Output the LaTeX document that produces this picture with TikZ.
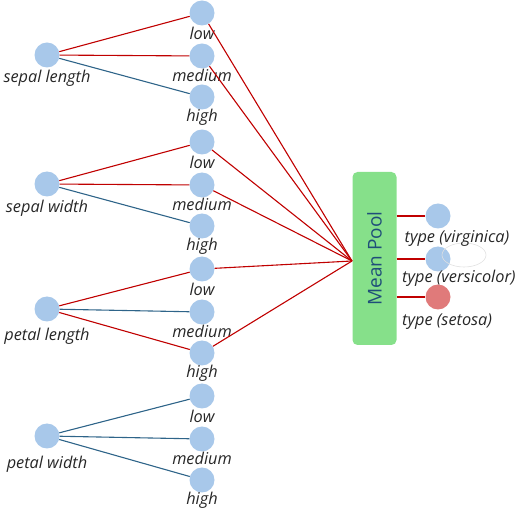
\documentclass[tikz,border=0pt]{standalone}
\usepackage{fontspec}
\setmainfont{Open Sans}
\begin{document}
\begin{tikzpicture}[x=1pt,y=-1pt,
  feat/.style={circle,fill=circblue,minimum size=25pt,inner sep=0pt},
  lbl/.style={font=\fontsize{16.3}{18}\selectfont\itshape,inner sep=0pt,text=black!85},
  redge/.style={draw=edgered,line width=1.1pt},
  bedge/.style={draw=edgeblue,line width=1.1pt}]
\definecolor{circblue}{HTML}{A8C8EA}
\definecolor{circred}{HTML}{E07A7A}
\definecolor{edgered}{HTML}{C00000}
\definecolor{edgeblue}{HTML}{2E6489}
\definecolor{poolgreen}{HTML}{86E08A}
\definecolor{pooltext}{HTML}{1F4E79}
\useasboundingbox (0,0) rectangle (515,513);

% input features
\node[feat] (sl) at (47,55) {};
\node[feat] (sw) at (47,184) {};
\node[feat] (pl) at (47,309) {};
\node[feat] (pw) at (47,436) {};
\node[lbl] at (47,78) {sepal length};
\node[lbl] at (47,208) {sepal width};
\node[lbl] at (47,336) {petal length};
\node[lbl] at (47,464) {petal width};

% binned levels
\foreach \g/\y in {a/13,b/142,c/269,d/396}{
  \node[feat] (\g1) at (202,\y) {};
  \node[feat] (\g2) at (202,\y+43) {};
  \node[feat] (\g3) at (202,\y+84) {};
  \node[lbl] at (202,\y+20) {low};
  \node[lbl] at (202,\y+62) {medium};
  \node[lbl] at (202,\y+104) {high};
}

% pooling block
\node[draw=none,fill=poolgreen,rounded corners=5pt,minimum width=44pt,minimum height=173pt,inner sep=0pt]
  (pool) at (374.5,258.5) {};
\node[rotate=90,font=\fontsize{19}{22}\selectfont,text=pooltext] at (pool.center) {Mean Pool};
\coordinate (in) at (352,261);

% outputs
\node[feat] (ov) at (438,216) {};
\node[feat] (oc) at (438,259) {};
\node[feat,fill=circred] (os) at (438,297) {};
\draw[black!12,line width=0.6pt] (464,255) ellipse (22pt and 12pt);
\node[lbl] at (457,238) {type (virginica)};
\node[lbl,anchor=west] at (402,278) {type (versicolor)};
\node[lbl,anchor=west] at (402,322) {type (setosa)};

% feature-to-level edges
\draw[redge] (sl) -- (a1); \draw[redge] (sl) -- (a2); \draw[bedge] (sl) -- (a3);
\draw[redge] (sw) -- (b1); \draw[redge] (sw) -- (b2); \draw[bedge] (sw) -- (b3);
\draw[redge] (pl) -- (c1); \draw[bedge] (pl) -- (c2); \draw[redge] (pl) -- (c3);
\draw[bedge] (pw) -- (d1); \draw[bedge] (pw) -- (d2); \draw[bedge] (pw) -- (d3);

% level-to-pool edges
\foreach \n in {a1,a2,b1,b2,c1,c3}{\draw[redge] (\n) -- (in);}

% pool-to-output edges
\draw[redge] (pool.east |- ov) -- (ov);
\draw[redge] (pool.east |- oc) -- (oc);
\draw[redge] (pool.east |- os) -- (os);
\end{tikzpicture}
\end{document}
